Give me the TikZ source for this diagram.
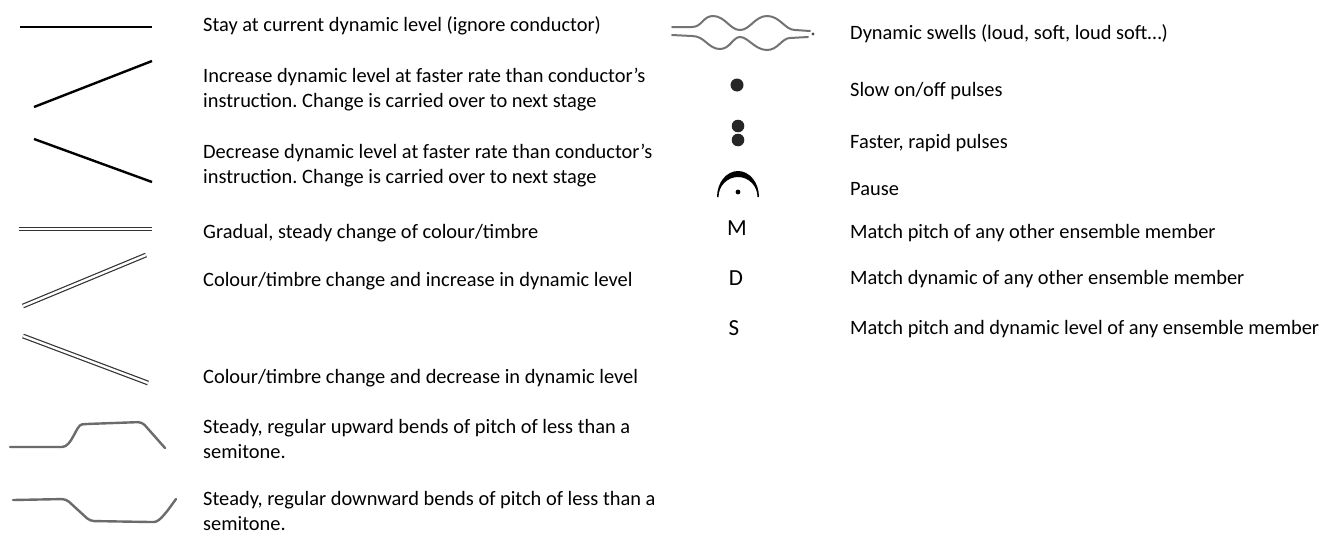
\documentclass[tikz,border=0pt]{standalone}
\usepackage{fontspec}
\setmainfont{Carlito}
\frenchspacing
\begin{document}
\begin{tikzpicture}[x=1pt,y=-1pt,
  lbl/.style={anchor=west,inner sep=0pt,align=left,font=\fontsize{20.4}{25}\selectfont},
  sym/.style={inner sep=0pt,font=\fontsize{23}{26}\selectfont},
  solidline/.style={black,line width=2.4pt},
  flatline/.style={black,line width=1.8pt},
  dblline/.style={draw=black!80,double=white,double distance=2.4pt,line width=1.2pt},
  pitchbend/.style={draw=black!58,line width=2.4pt,rounded corners=4pt,line cap=round},
  swell/.style={draw=black!55,line width=2pt,line cap=round},
  dotfill/.style={fill=black!85,draw=none}]
\useasboundingbox (0,0) rectangle (1323,536);
% left column symbols
\draw[flatline] (20,27) -- (152,27);
\draw[solidline] (34,107) -- (152,61);
\draw[solidline] (34,139) -- (152,182);
\draw[dblline] (19,229) -- (152,229);
\draw[dblline] (23,306) -- (146,255);
\draw[dblline] (23,336) -- (148,383);
\draw[pitchbend] (10,447) -- (58,447) .. controls (72,447) and (76,425) .. (86,424) -- (142,422) -- (165,448);
\draw[pitchbend] (13,500) -- (66,499) -- (90,521) -- (150,522) .. controls (160,522) and (168,510) .. (176,499);
% left column labels
\node[lbl] (t1) at (203,26) {Stay at current dynamic level (ignore conductor)};
\node[lbl] (t2) at (203,90) {Increase dynamic level at faster rate than conductor’s\\instruction. Change is carried over to next stage};
\node[lbl] (t3) at (203,165.5) {Decrease dynamic level at faster rate than conductor’s\\instruction. Change is carried over to next stage};
\node[lbl] (t4) at (203,233) {Gradual, steady change of colour/timbre};
\node[lbl] (t5) at (203,281) {Colour/timbre change and increase in dynamic level};
\node[lbl] (t6) at (203,378) {Colour/timbre change and decrease in dynamic level};
\node[lbl] (t7) at (203,439) {Steady, regular upward bends of pitch of less than a\\semitone.};
\node[lbl] (t8) at (203,511) {Steady, regular downward bends of pitch of less than a\\semitone.};
% right column symbols
\draw[swell] (672,27) -- (692,27) .. controls (702,27) and (703,16) .. (713,16) .. controls (725,16) and (730,30) .. (740,30) .. controls (750,30) and (755,16) .. (767,16) .. controls (780,16) and (785,30) .. (795,30) -- (810,31);
\draw[swell] (672,35) -- (692,36) .. controls (705,36) and (708,49) .. (720,49) .. controls (730,49) and (733,37) .. (740,37) .. controls (748,37) and (755,50) .. (767,50) .. controls (778,50) and (782,38) .. (790,38) -- (808,37);
\fill[black!70] (813,34) circle (1.6);
\fill[dotfill] (737,85) circle (6.5);
\fill[dotfill] (738,126) circle (6.3);
\fill[dotfill] (738,140) circle (6.3);
\fill[black] (717,197) arc[start angle=180,end angle=360,x radius=21,y radius=26] -- (757.5,197) arc[start angle=360,end angle=180,x radius=19.5,y radius=20] -- cycle;
\fill[black] (738,192) circle (2.4);
\node[sym] (m) at (737,228) {M};
\node[sym] (d) at (736,278) {D};
\node[sym] (s) at (734,328) {S};
% right column labels
\node[lbl] (r1) at (850,34) {Dynamic swells (loud, soft, loud soft…)};
\node[lbl] (r2) at (850,91) {Slow on/off pulses};
\node[lbl] (r3) at (850,143) {Faster, rapid pulses};
\node[lbl] (r4) at (850,189) {Pause};
\node[lbl] (r5) at (850,233) {Match pitch of any other ensemble member};
\node[lbl] (r6) at (850,279) {Match dynamic of any other ensemble member};
\node[lbl] (r7) at (850,329) {Match pitch and dynamic level of any ensemble member};
\end{tikzpicture}
\end{document}
